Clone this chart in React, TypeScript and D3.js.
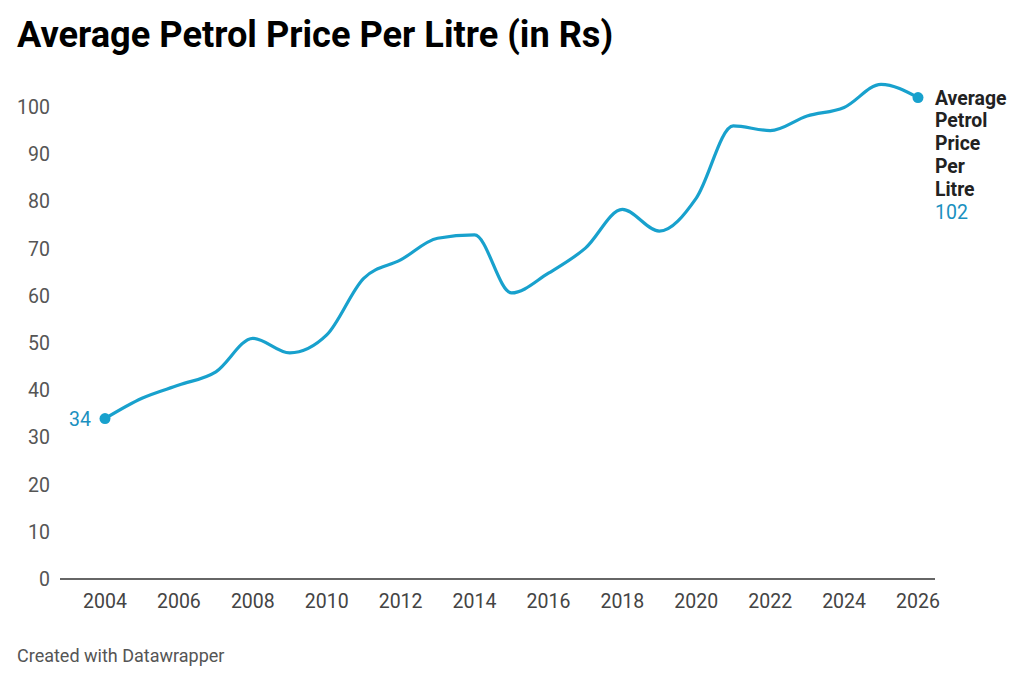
import React from "react";
import * as d3 from "d3";

const years = [2004, 2005, 2006, 2007, 2008, 2009, 2010, 2011, 2012, 2013, 2014, 2015, 2016, 2017, 2018, 2019, 2020, 2021, 2022, 2023, 2024, 2025, 2026];
const prices = [34, 38.3, 41.1, 43.9, 51, 47.9, 51.7, 63.7, 67.6, 72.2, 72.9, 60.6, 64.8, 70.1, 78.3, 73.7, 80.7, 96, 95, 98.1, 99.9, 104.8, 102];
const yTicks = [0, 10, 20, 30, 40, 50, 60, 70, 80, 90, 100];
const xTicks = [2004, 2006, 2008, 2010, 2012, 2014, 2016, 2018, 2020, 2022, 2024, 2026];
const seriesName = ["Average", "Petrol", "Price", "Per", "Litre"];

const W = 1024;
const H = 684;
const BLUE = "#18a1cd";

export default function App() {
  const x = d3.scaleLinear().domain([2004, 2026]).range([105, 918]);
  const y = d3.scaleLinear().domain([0, 100]).range([579, 107]);
  const line = d3
    .line<number>()
    .x((_, i) => x(years[i]))
    .y((d) => y(d))
    .curve(d3.curveMonotoneX);
  const last = prices.length - 1;
  const font = "Roboto, 'Noto Sans', sans-serif";
  return (
    <svg
      width={W}
      height={H}
      style={{ position: "absolute", left: 0, top: 0, background: "#fff" }}
      fontFamily={font}
    >
      <text x={17} y={47} fontSize={36.2} fontWeight={700} fill="#000">
        Average Petrol Price Per Litre (in Rs)
      </text>
      {yTicks.map((t) => (
        <text key={t} x={50} y={y(t)} dy="0.36em" textAnchor="end" fontSize={19.5} fill="#555">
          {t}
        </text>
      ))}
      <line x1={60} x2={935} y1={y(0)} y2={y(0)} stroke="#333" strokeWidth={1.6} />
      {xTicks.map((t) => (
        <text key={t} x={x(t)} y={608} textAnchor="middle" fontSize={19.5} fill="#444">
          {t}
        </text>
      ))}
      <path d={line(prices) || ""} fill="none" stroke={BLUE} strokeWidth={3.2} strokeLinecap="round" strokeLinejoin="round" />
      <circle cx={x(years[0])} cy={y(prices[0])} r={5.5} fill={BLUE} />
      <circle cx={x(years[last])} cy={y(prices[last])} r={5.5} fill={BLUE} />
      <text x={x(years[0]) - 14} y={y(prices[0])} dy="0.36em" textAnchor="end" fontSize={19.5} fill="#1a90c0">
        {prices[0]}
      </text>
      {seriesName.map((w, i) => (
        <text key={w} x={935} y={y(prices[last]) + i * 22.9} dy="0.36em" fontSize={19.4} fontWeight={700} fill="#222">
          {w}
        </text>
      ))}
      <text x={935} y={y(prices[last]) + seriesName.length * 22.9} dy="0.36em" fontSize={19.5} fill="#1a90c0">
        {prices[last]}
      </text>
      <text x={17} y={662} fontSize={18} fill="#555">
        Created with Datawrapper
      </text>
    </svg>
  );
}
